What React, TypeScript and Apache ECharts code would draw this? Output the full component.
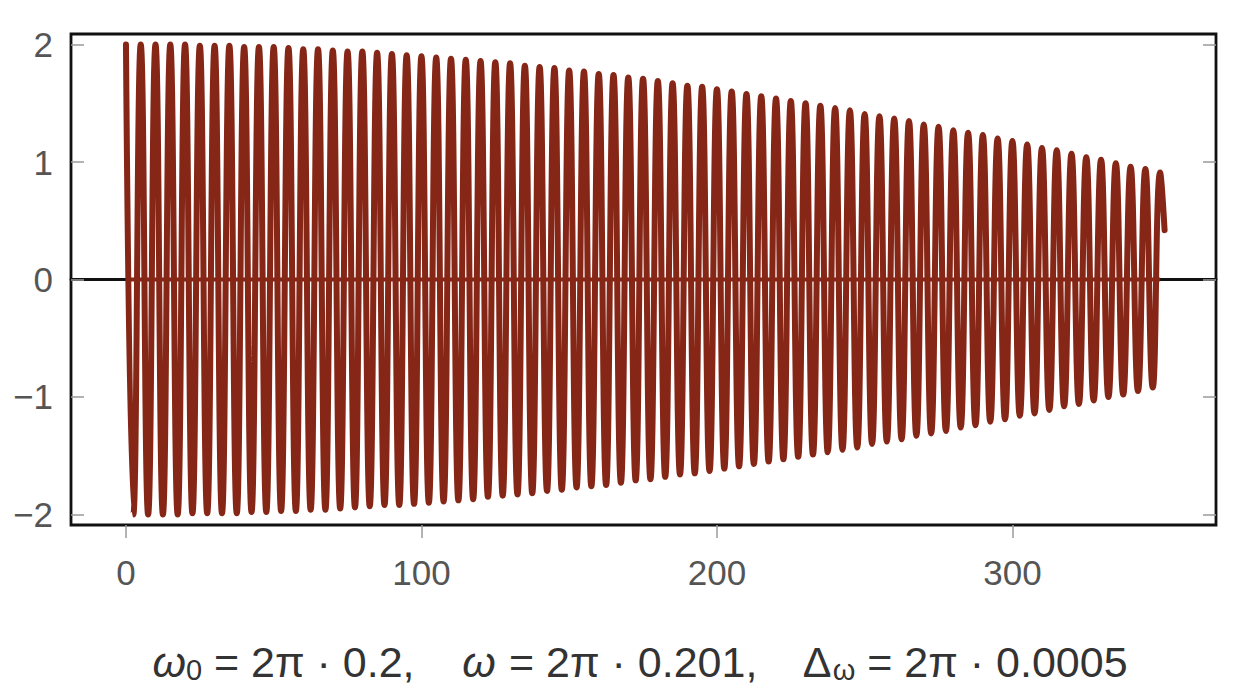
import React, { useEffect, useRef } from "react";
import * as echarts from "echarts";

// Peak (maximum) times and values of each oscillation
const peakT = [
  0, 5, 10, 15, 20, 25, 30, 35, 40, 45, 50, 55, 60, 65, 70, 75, 80, 85, 90, 95,
  100, 105, 110, 115, 120, 125, 130, 135, 140, 145, 150, 155, 160, 165, 170, 175, 180, 185, 190, 195,
  200, 205, 210, 215, 220, 225, 230, 235, 240, 245, 250, 255, 260, 265, 270, 275, 280, 285, 290, 295,
  300, 305, 310, 315, 320, 325, 330, 335, 340, 345, 350,
];
const peakV = [
  2.0, 2.0, 2.0, 2.0, 2.0, 1.99, 1.99, 1.99, 1.98, 1.98,
  1.98, 1.97, 1.96, 1.96, 1.95, 1.94, 1.94, 1.93, 1.92, 1.91,
  1.9, 1.89, 1.88, 1.87, 1.86, 1.85, 1.84, 1.82, 1.81, 1.8,
  1.78, 1.77, 1.75, 1.74, 1.72, 1.71, 1.69, 1.67, 1.65, 1.64,
  1.62, 1.6, 1.58, 1.56, 1.54, 1.52, 1.5, 1.48, 1.46, 1.44,
  1.41, 1.39, 1.37, 1.35, 1.32, 1.3, 1.27, 1.25, 1.23, 1.2,
  1.18, 1.15, 1.12, 1.1, 1.07, 1.04, 1.02, 0.99, 0.96, 0.94,
  0.91,
];
// Trough (minimum) times and values of each oscillation
const troughT = [
  2.5, 7.5, 12.5, 17.5, 22.5, 27.5, 32.5, 37.5, 42.5, 47.5,
  52.5, 57.5, 62.5, 67.5, 72.5, 77.5, 82.5, 87.5, 92.5, 97.5,
  102.5, 107.5, 112.5, 117.5, 122.5, 127.5, 132.5, 137.5, 142.5, 147.5,
  152.5, 157.5, 162.5, 167.5, 172.5, 177.5, 182.5, 187.5, 192.5, 197.5,
  202.5, 207.5, 212.5, 217.5, 222.5, 227.5, 232.5, 237.5, 242.5, 247.5,
  252.5, 257.5, 262.5, 267.5, 272.5, 277.5, 282.5, 287.5, 292.5, 297.5,
  302.5, 307.5, 312.5, 317.5, 322.5, 327.5, 332.5, 337.5, 342.5, 347.5,
];
const troughV = [
  -2.0, -2.0, -2.0, -2.0, -1.99, -1.99, -1.99, -1.99, -1.98, -1.98,
  -1.97, -1.97, -1.96, -1.96, -1.95, -1.94, -1.93, -1.92, -1.92, -1.91,
  -1.9, -1.89, -1.88, -1.87, -1.85, -1.84, -1.83, -1.82, -1.8, -1.79,
  -1.77, -1.76, -1.75, -1.73, -1.71, -1.7, -1.68, -1.66, -1.65, -1.63,
  -1.61, -1.59, -1.57, -1.55, -1.53, -1.51, -1.49, -1.47, -1.45, -1.43,
  -1.4, -1.38, -1.36, -1.33, -1.31, -1.29, -1.26, -1.24, -1.21, -1.19,
  -1.16, -1.14, -1.11, -1.08, -1.06, -1.03, -1.0, -0.98, -0.95, -0.92,
];
// Final partial sample after the last peak
const tailT = [351.5];
const tailV = [0.42];
// Dark red baseline drawn under the signal
const baseT = [0, 350];
const baseV = [0, 0];

const xTicks = [0, 100, 200, 300];
const yTicks = [-2, -1, 0, 1, 2];
const caption =
  "{w|ω}{s|0} = 2π · 0.2,    {w|ω} = 2π · 0.201,    Δ{s|ω} = 2π · 0.0005";

const RED = "#862617";

export default function App() {
  const ref = useRef<HTMLDivElement>(null);
  useEffect(() => {
    if (!ref.current) return;
    const chart = echarts.init(ref.current, undefined, { renderer: "svg" });

    const signal: number[][] = [];
    for (let i = 0; i < peakT.length; i++) {
      signal.push([peakT[i], peakV[i]]);
      if (i < troughT.length) signal.push([troughT[i], troughV[i]]);
    }
    for (let i = 0; i < tailT.length; i++) signal.push([tailT[i], tailV[i]]);
    const base = baseT.map((t, i) => [t, baseV[i]]);

    const fmt = (v: number) => (v < 0 ? "\u2212" + String(-v) : String(v));
    const labelFont = "'Liberation Sans', Arial, sans-serif";

    chart.setOption({
      animation: false,
      backgroundColor: "#ffffff",
      grid: {
        left: 71,
        right: 18,
        top: 34,
        bottom: 173,
        show: true,
        borderColor: "#111111",
        borderWidth: 2.8,
        backgroundColor: "transparent",
      },
      xAxis: [
        {
          type: "value",
          min: -18.6,
          max: 368.9,
          position: "bottom",
          axisLine: { show: false, onZero: false },
          axisTick: {
            show: true,
            inside: false,
            length: 13,
            customValues: xTicks,
            lineStyle: { color: "#9a9a9a", width: 1.5 },
          },
          axisLabel: {
            customValues: xTicks,
            margin: 30,
            color: "#555555",
            fontSize: 35,
            fontFamily: labelFont,
          },
          splitLine: { show: false },
        },
        {
          type: "value",
          min: -18.6,
          max: 368.9,
          position: "bottom",
          axisLine: { show: true, onZero: true, lineStyle: { color: "#111111", width: 2.8 } },
          axisTick: { show: false },
          axisLabel: { show: false },
          splitLine: { show: false },
        },
      ],
      yAxis: [
        {
          type: "value",
          min: -2.09,
          max: 2.09,
          position: "left",
          axisLine: { show: false, onZero: false },
          axisTick: {
            show: true,
            inside: true,
            length: 13,
            customValues: yTicks,
            lineStyle: { color: "#9a9a9a", width: 1.5 },
          },
          axisLabel: {
            customValues: yTicks,
            margin: 18,
            color: "#555555",
            fontSize: 35,
            fontFamily: labelFont,
            formatter: fmt,
          },
          splitLine: { show: false },
        },
        {
          type: "value",
          min: -2.09,
          max: 2.09,
          position: "right",
          axisLine: { show: false, onZero: false },
          axisTick: {
            show: true,
            inside: true,
            length: 13,
            customValues: yTicks,
            lineStyle: { color: "#9a9a9a", width: 1.5 },
          },
          axisLabel: { show: false },
          splitLine: { show: false },
        },
      ],
      series: [
        {
          type: "line",
          data: base,
          showSymbol: false,
          symbol: "none",
          silent: true,
          z: 2,
          lineStyle: { color: RED, width: 4 },
        },
        {
          type: "line",
          data: signal,
          showSymbol: false,
          symbol: "none",
          silent: true,
          smooth: 0.5,
          z: 3,
          lineStyle: { color: RED, width: 6, join: "round", cap: "round" },
        },
      ],
      graphic: [
        {
          type: "text",
          x: 640,
          y: 662,
          style: {
            text: caption,
            align: "center",
            verticalAlign: "middle",
            fill: "#333333",
            fontSize: 43,
            fontFamily: labelFont,
            rich: {
              w: { fontSize: 43, fontStyle: "italic", fill: "#333333", fontFamily: labelFont },
              s: { fontSize: 29, fill: "#333333", fontFamily: labelFont, padding: [16, 0, 0, 0] },
            },
          },
        },
      ],
    });
    return () => chart.dispose();
  }, []);

  return (
    <div
      ref={ref}
      style={{ position: "fixed", left: 0, top: 0, width: 1234, height: 698 }}
    />
  );
}
